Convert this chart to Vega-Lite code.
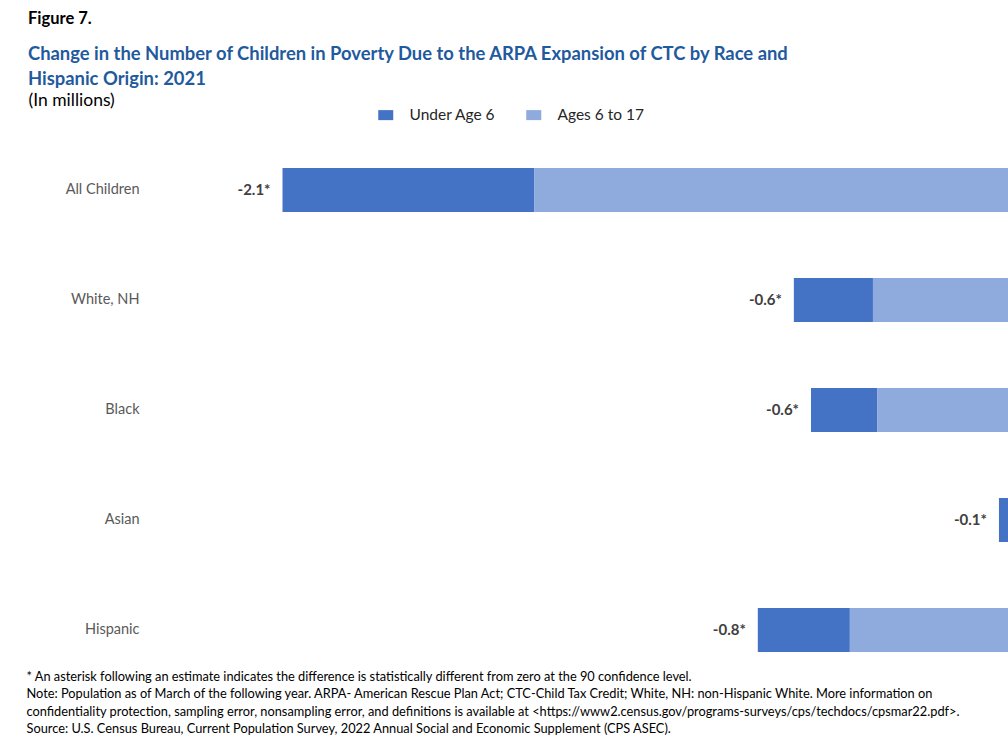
{
  "$schema": "https://vega.github.io/schema/vega-lite/v6.json",
  "autosize": {"type": "none"},
  "width": 875,
  "height": 550,
  "padding": {"left": 146, "top": 135, "right": 0, "bottom": 55},
  "background": "white",
  "config": {"view": {"stroke": null}, "font": "Lato"},
  "title": {
    "text": "Figure 7.",
    "subtitle": ["Change in the Number of Children in Poverty Due to the ARPA Expansion of CTC by Race and", "Hispanic Origin: 2021"],
    "anchor": "start",
    "frame": "group",
    "dx": -118,
    "offset": 3,
    "font": "Lato",
    "fontSize": 16.5,
    "fontWeight": "bold",
    "color": "#000000",
    "subtitleFont": "Lato",
    "subtitleFontSize": 18.4,
    "subtitleFontWeight": "bold",
    "subtitleColor": "#1F5A9E",
    "subtitleLineHeight": 25,
    "subtitlePadding": 17
  },
  "data": {
    "values": [
      {"group": "All Children", "age": "Under Age 6", "value": -0.72, "label": "-2.1*"},
      {"group": "All Children", "age": "Ages 6 to 17", "value": -1.39, "label": "-2.1*"},
      {"group": "White, NH", "age": "Under Age 6", "value": -0.226, "label": "-0.6*"},
      {"group": "White, NH", "age": "Ages 6 to 17", "value": -0.423, "label": "-0.6*"},
      {"group": "Black", "age": "Under Age 6", "value": -0.189, "label": "-0.6*"},
      {"group": "Black", "age": "Ages 6 to 17", "value": -0.411, "label": "-0.6*"},
      {"group": "Asian", "age": "Under Age 6", "value": -0.03, "label": "-0.1*"},
      {"group": "Asian", "age": "Ages 6 to 17", "value": -0.033, "label": "-0.1*"},
      {"group": "Hispanic", "age": "Under Age 6", "value": -0.263, "label": "-0.8*"},
      {"group": "Hispanic", "age": "Ages 6 to 17", "value": -0.489, "label": "-0.8*"}
    ]
  },
  "layer": [
    {
      "mark": {"type": "bar"},
      "encoding": {
        "y": {
          "field": "group",
          "type": "nominal",
          "sort": ["All Children", "White, NH", "Black", "Asian", "Hispanic"],
          "scale": {"paddingInner": 0.6, "paddingOuter": 0.3},
          "axis": {
            "title": "(In millions)",
            "titleAngle": 0,
            "titleX": -118,
            "titleY": -30,
            "titleAlign": "left",
            "titleBaseline": "alphabetic",
            "titleFont": "Lato",
            "titleFontSize": 17.5,
            "titleFontWeight": "normal",
            "titleColor": "#000000",
            "ticks": false,
            "tickSize": 0,
            "domain": false,
            "labelPadding": 7,
            "labelFont": "Lato",
            "labelFontSize": 14.5,
            "labelColor": "#595959"
          }
        },
        "x": {
          "field": "value",
          "type": "quantitative",
          "stack": "zero",
          "scale": {"domain": [-2.5, 0], "nice": false, "zero": false},
          "axis": {
            "title": [
              "* An asterisk following an estimate indicates the difference is statistically different from zero at the 90 confidence level.",
              "Note: Population as of March of the following year. ARPA- American Rescue Plan Act; CTC-Child Tax Credit; White, NH: non-Hispanic White. More information on",
              "confidentiality protection, sampling error, nonsampling error, and definitions is available at <https://www2.census.gov/programs-surveys/cps/techdocs/cpsmar22.pdf>.",
              "Source: U.S. Census Bureau, Current Population Survey, 2022 Annual Social and Economic Supplement (CPS ASEC)."
            ],
            "titleX": -120,
            "titleY": -5,
            "titleAlign": "left",
            "titleAnchor": "start",
            "titleBaseline": "alphabetic",
            "titleFont": "Lato",
            "titleFontSize": 12.8,
            "titleFontWeight": "normal",
            "titleColor": "#000000",
            "titleLineHeight": 17.5,
            "labels": false,
            "ticks": false,
            "domain": false,
            "grid": false
          }
        },
        "color": {
          "field": "age",
          "type": "nominal",
          "scale": {"domain": ["Under Age 6", "Ages 6 to 17"], "range": ["#4472C4", "#8FAADC"]},
          "legend": {
            "title": null,
            "orient": "none",
            "direction": "horizontal",
            "legendX": 232,
            "legendY": -28,
            "symbolType": "M-1,-0.667H1V0.667H-1Z",
            "symbolSize": 225,
            "symbolStrokeWidth": 0,
            "labelFont": "Lato",
            "labelFontSize": 15.5,
            "labelColor": "#262626",
            "labelOffset": 16,
            "columnPadding": 30,
            "padding": 0
          }
        },
        "order": {"field": "age", "sort": "ascending"}
      }
    },
    {
      "transform": [
        {"joinaggregate": [{"op": "sum", "field": "value", "as": "total"}], "groupby": ["group"]},
        {"filter": "datum.age === 'Under Age 6'"}
      ],
      "mark": {"type": "text", "align": "right", "baseline": "middle", "dx": -12, "font": "Lato", "fontSize": 15, "fontWeight": "bold", "color": "#404040"},
      "encoding": {
        "y": {"field": "group", "type": "nominal", "sort": ["All Children", "White, NH", "Black", "Asian", "Hispanic"]},
        "x": {"field": "total", "type": "quantitative"},
        "text": {"field": "label"}
      }
    }
  ]
}
